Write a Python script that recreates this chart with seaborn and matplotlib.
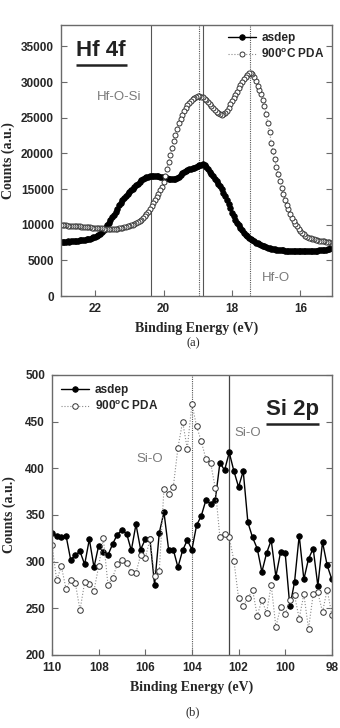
import numpy as np
import pandas as pd
import matplotlib
matplotlib.use("Agg")
import matplotlib.pyplot as plt
import seaborn as sns

# ===== Hf 4f spectra, 0.05 eV step starting at 23.00 eV =====
HF_E_START = 23.00
HF_E_STEP = 0.05
hf_asdep = [
    7600, 7620, 7580, 7640, 7650, 7630, 7680, 7700, 7700, 7740,        # 23.00
    7780, 7800, 7850, 7870, 7920, 7960, 8000, 8060, 8150, 8220,        # 22.50
    8300, 8420, 8550, 8700, 8950, 9200, 9500, 9900, 10300, 10700,      # 22.00
    11050, 11400, 11800, 12200, 12700, 13100, 13400, 13750, 14000, 14300,  # 21.50
    14550, 14800, 15050, 15250, 15500, 15750, 15950, 16200, 16400, 16550,  # 21.00
    16650, 16750, 16800, 16850, 16850, 16870, 16850, 16800, 16750, 16700,  # 20.50
    16650, 16600, 16550, 16450, 16400, 16350, 16350, 16400, 16500, 16650,  # 20.00
    16900, 17200, 17450, 17550, 17650, 17750, 17850, 17950, 18000, 18100,  # 19.50
    18200, 18300, 18400, 18450, 18300, 18050, 17750, 17450, 17150, 16800,  # 19.00
    16450, 16100, 15750, 15400, 14950, 14500, 14000, 13500, 12900, 12300,  # 18.50
    11700, 11150, 10700, 10300, 9900, 9500, 9200, 8900, 8600, 8350,    # 18.00
    8150, 7950, 7800, 7650, 7500, 7400, 7280, 7150, 7050, 6950,        # 17.50
    6850, 6780, 6700, 6650, 6600, 6550, 6500, 6450, 6420, 6400,        # 17.00
    6380, 6350, 6340, 6320, 6300, 6310, 6290, 6300, 6320, 6300,        # 16.50
    6280, 6300, 6310, 6290, 6300, 6320, 6300, 6290, 6310, 6330,        # 16.00
    6350, 6380, 6400, 6420, 6450, 6500, 6550, 6650, 6750,              # 15.50
]
hf_pda = [
    9950, 9930, 9900, 9900, 9880, 9870, 9850, 9840, 9820, 9800,        # 23.00
    9780, 9760, 9740, 9720, 9700, 9680, 9650, 9630, 9600, 9580,        # 22.50
    9560, 9540, 9520, 9500, 9480, 9450, 9420, 9400, 9380, 9370,        # 22.00
    9380, 9400, 9420, 9450, 9480, 9520, 9560, 9620, 9680, 9750,        # 21.50
    9830, 9920, 10020, 10130, 10250, 10380, 10530, 10700, 10900, 11150,  # 21.00
    11450, 11800, 12200, 12650, 13050, 13450, 13850, 14300, 14800, 15350,  # 20.50
    16050, 16850, 17800, 18850, 19800, 20750, 21700, 22600, 23450, 24200,  # 20.00
    24850, 25400, 25900, 26350, 26750, 27050, 27350, 27600, 27800, 27900,  # 19.50
    27980, 28000, 27950, 27850, 27650, 27450, 27200, 26950, 26650, 26350,  # 19.00
    26100, 25850, 25600, 25450, 25400, 25500, 25700, 26000, 26400, 26850,  # 18.50
    27300, 27750, 28200, 28650, 29100, 29550, 30000, 30400, 30750, 31050,  # 18.00
    31250, 31300, 31150, 30700, 30100, 29500, 28900, 28300, 27550, 26600,  # 17.50
    25500, 24300, 23000, 21450, 20300, 19200, 18100, 17050, 16100, 15200,  # 17.00
    14350, 13500, 12800, 12150, 11550, 11000, 10500, 10100, 9750, 9400,  # 16.50
    9100, 8850, 8650, 8450, 8300, 8200, 8100, 8000, 7930, 7870,        # 16.00
    7820, 7770, 7730, 7690, 7650, 7610, 7580, 7550, 7500,              # 15.50
]
hf_lines_solid = [20.38, 18.85]
hf_lines_dotted = [18.97, 17.47]

# ===== Si 2p spectra, 0.2 eV step starting at 110.0 eV =====
SI_E_START = 110.0
SI_E_STEP = 0.2
si_asdep = [
    331, 327, 326, 328, 302, 307, 311, 297, 324, 294,   # 110.0
    317, 310, 307, 319, 329, 334, 330, 312, 340, 313,   # 108.0
    324, 324, 275, 331, 353, 313, 313, 294, 312, 323,   # 106.0
    313, 339, 349, 366, 362, 366, 406, 398, 417, 397,   # 104.0
    380, 397, 342, 326, 314, 289, 309, 323, 284, 310,   # 102.0
    309, 252, 278, 328, 281, 303, 314, 274, 321, 296,   # 100.0
    281,                                                # 98.0
]
si_pda = [
    318, 280, 295, 271, 280, 277, 248, 278, 276, 269,   # 110.0
    295, 325, 275, 283, 297, 302, 299, 289, 288, 307,   # 108.0
    304, 324, 285, 290, 378, 373, 380, 422, 450, 421,   # 106.0
    469, 445, 429, 410, 406, 379, 326, 330, 326, 301,   # 104.0
    261, 253, 261, 270, 242, 259, 245, 275, 230, 251,   # 102.0
    244, 259, 264, 239, 265, 228, 265, 267, 246, 270,   # 100.0
    243,                                                # 98.0
]
si_lines_solid = [102.4]
si_lines_dotted = [104.0]


def spectrum_frame(start, step, asdep, pda):
    e1 = start - step * np.arange(len(asdep))
    e2 = start - step * np.arange(len(pda))
    return (pd.DataFrame({"E": np.round(e1, 3), "counts": asdep}),
            pd.DataFrame({"E": np.round(e2, 3), "counts": pda}))


sns.set_style("ticks")
plt.rcParams["font.family"] = ["Liberation Sans", "DejaVu Sans"]
plt.rcParams["mathtext.fontset"] = "custom"
plt.rcParams["mathtext.rm"] = "Liberation Sans:bold"
plt.rcParams["mathtext.bf"] = "Liberation Sans:bold"

SPINE = "#6a6a6a"
LABEL_GRAY = "#7a7a7a"
SERIF = ["Liberation Serif", "DejaVu Serif"]


def style_axes(ax, ylab_x):
    for s in ax.spines.values():
        s.set_color(SPINE)
        s.set_linewidth(1.0)
    ax.tick_params(direction="in", length=4, width=0.8, color=SPINE,
                   right=True, labelsize=8.5, pad=5)
    for lab in ax.get_xticklabels() + ax.get_yticklabels():
        lab.set_fontweight("bold")
    ax.set_xlabel("Binding Energy (eV)", family=SERIF, fontweight="bold",
                  fontsize=10, labelpad=5)
    ax.set_ylabel("Counts (a.u.)", family=SERIF, fontweight="bold",
                  fontsize=10)
    ax.yaxis.set_label_coords(ylab_x, 0.5)


def draw_spectra(ax, df_a, df_p, ms_a, ms_p):
    sns.lineplot(data=df_a, x="E", y="counts", ax=ax, color="black",
                 linewidth=1.0, marker="o", markersize=ms_a,
                 markerfacecolor="black", markeredgecolor="black",
                 markeredgewidth=0.6, label="asdep")
    sns.lineplot(data=df_p, x="E", y="counts", ax=ax, color="#8a8a8a",
                 linewidth=0.8, linestyle=":", marker="o", markersize=ms_p,
                 markerfacecolor="white", markeredgecolor="#333333",
                 markeredgewidth=0.7, label=r"900$^{\mathrm{o}}$C PDA")


fig = plt.figure(figsize=(3.4, 7.28), dpi=100)

# ---------- (a) Hf 4f ----------
ax1 = fig.add_axes([0.179, 0.5934, 0.797, 0.3723])
df_a, df_p = spectrum_frame(HF_E_START, HF_E_STEP, hf_asdep, hf_pda)
for e in hf_lines_solid:
    ax1.axvline(e, color="#555555", lw=0.8, zorder=0)
for e in hf_lines_dotted:
    ax1.axvline(e, color="#555555", lw=0.8, ls=(0, (1, 1)), zorder=0)
draw_spectra(ax1, df_a, df_p, 4.0, 3.6)
ax1.set_xlim(23, 15.08)
ax1.set_ylim(0, 38000)
ax1.set_xticks([22, 20, 18, 16])
ax1.set_yticks(range(0, 35001, 5000))
style_axes(ax1, -0.170)
ax1.text(0.055, 0.905, "Hf 4f", transform=ax1.transAxes, fontsize=16,
         fontweight="bold", color="#222222", va="center")
ax1.plot([0.055, 0.245], [0.853, 0.853], transform=ax1.transAxes,
         color="#222222", lw=1.8, solid_capstyle="butt")
ax1.text(21.3, 27900, "Hf-O-Si", fontsize=9.5, color=LABEL_GRAY,
         ha="center", va="center")
ax1.text(16.72, 2500, "Hf-O", fontsize=9.5, color=LABEL_GRAY,
         ha="center", va="center")
leg = ax1.legend(loc="upper right", frameon=False, fontsize=8.5,
                 handlelength=2.3, borderaxespad=0.2, labelspacing=0.25,
                 handletextpad=0.5)
for t in leg.get_texts():
    t.set_fontweight("bold")
fig.text(0.568, 0.524, "(a)", family=SERIF, fontsize=9, ha="center")

# ---------- (b) Si 2p ----------
ax2 = fig.add_axes([0.153, 0.1003, 0.823, 0.3846])
df_a, df_p = spectrum_frame(SI_E_START, SI_E_STEP, si_asdep, si_pda)
for e in si_lines_solid:
    ax2.axvline(e, color="#444444", lw=0.9, zorder=0)
for e in si_lines_dotted:
    ax2.axvline(e, color="#555555", lw=0.8, ls=(0, (1, 1)), zorder=0)
draw_spectra(ax2, df_a, df_p, 4.0, 4.0)
ax2.set_xlim(110, 98)
ax2.set_ylim(200, 500)
ax2.set_xticks(range(110, 97, -2))
ax2.set_yticks(range(200, 501, 50))
style_axes(ax2, -0.130)
ax2.text(0.955, 0.875, "Si 2p", transform=ax2.transAxes, fontsize=16,
         fontweight="bold", color="#222222", va="center", ha="right")
ax2.plot([0.763, 0.955], [0.825, 0.825], transform=ax2.transAxes,
         color="#222222", lw=1.8, solid_capstyle="butt")
ax2.text(105.8, 410, "Si-O", fontsize=9.5, color=LABEL_GRAY,
         ha="center", va="center")
ax2.text(101.6, 438, "Si-O", fontsize=9.5, color=LABEL_GRAY,
         ha="center", va="center")
leg = ax2.legend(loc="upper left", frameon=False, fontsize=8.5,
                 handlelength=2.3, borderaxespad=0.4, labelspacing=0.25,
                 handletextpad=0.5)
for t in leg.get_texts():
    t.set_fontweight("bold")
fig.text(0.568, 0.017, "(b)", family=SERIF, fontsize=9, ha="center")

fig.savefig("out.png", dpi=100)
